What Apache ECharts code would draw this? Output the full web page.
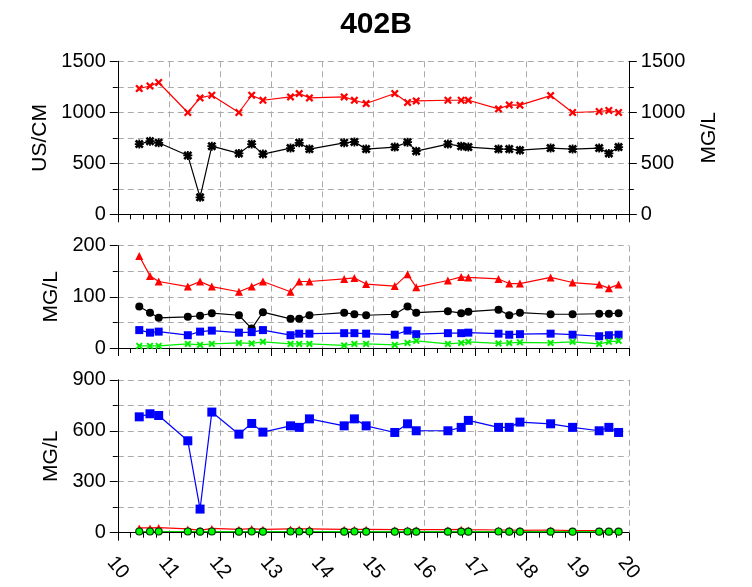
<!DOCTYPE html>
<html>
<head>
<meta charset="utf-8">
<script src="https://cdn.jsdelivr.net/npm/echarts@6/dist/echarts.min.js"></script>
<style>html,body{margin:0;padding:0;background:#fff;}#c{width:752px;height:587px;}</style>
</head>
<body>
<div id="c"></div>
<script>
var dates = [10.42,10.63,10.80,11.37,11.61,11.84,12.37,12.62,12.84,13.38,13.55,13.75,14.43,14.63,14.86,15.42,15.67,15.84,16.46,16.72,16.86,17.45,17.66,17.87,18.47,18.90,19.42,19.61,19.80];
var xTicks = [10,11,12,13,14,15,16,17,18,19,20];
// top panel
var conductivity = [1233,1258,1292,998,1141,1167,998,1167,1118,1151,1184,1141,1151,1118,1086,1184,1096,1112,1118,1118,1118,1033,1072,1070,1164,998,1008,1018,998];
var tds = [688,717,701,577,166,668,597,688,590,649,701,639,701,710,639,659,707,619,688,668,659,639,639,629,649,639,649,597,659];
// middle panel
var midRed = [180,141,130,120,130,120,110,120,130,110,130,130,135,137,125,121,144,119,132,139,138,135,126,126,138,128,124,117,124];
var midBlack = [81,69,59,61,63,68,64,38,70,57,57,64,69,66,64,66,81,69,72,68,71,75,64,69,66,66,67,67,68];
var midBlue = [35,30,32,25,32,34,30,31,35,25,28,28,29,29,28,26,34,27,29,29,30,28,26,27,28,26,23,25,26];
var midGreen = [4,4,4,8,6,8,10,9,12,8,8,8,5,8,8,6,10,14,8,10,12,9,10,11,10,12,8,12,14];
// bottom panel
var botBlue = [682,700,690,541,139,710,580,643,592,629,620,670,629,670,629,590,641,600,600,620,661,620,620,651,641,620,600,620,590];
var botRed = [28,28,30,22,14,25,20,24,20,22,22,22,20,20,20,18,18,18,18,20,18,16,16,14,16,12,12,10,10];
var botGreen = [7,7,7,7,6,7,6,7,6,7,7,7,6,7,6,6,7,6,6,6,6,7,6,6,6,6,6,6,6];
var botBlack = [2,2,2,2,2,2,2,2,2,2,2,2,2,2,2,2,2,2,2,2,2,2,2,2,2,2,2,2,2];

function pts(arr){ return dates.map(function(d,i){ return [d, arr[i]]; }); }

var XSYM = 'path://M0,2L2,0L5,3L8,0L10,2L7,5L10,8L8,10L5,7L2,10L0,8L3,5Z';
var ASTER = 'path://M0,2L2,0L5,3L8,0L10,2L7,5L10,8L8,10L5,7L2,10L0,8L3,5Z M4,0L6,0L6,10L4,10Z M0,4L10,4L10,6L0,6Z';

var FONT = 'Liberation Sans';
var gridCol = '#ababab';
var L = 117.8, R = 752 - 628.8;
var grids = [
  {left: L, right: R, top: 61.3, height: 153},
  {left: L, right: R, top: 245.7, height: 102.3},
  {left: L, right: R, top: 379.8, height: 152.9}
];

function xAxis(i, showLabel){
  return {
    type: 'value', gridIndex: i, min: xTicks[0], max: xTicks[xTicks.length-1], interval: 1,
    axisLine: {show: true, onZero: false, lineStyle: {color: '#000', width: 1}},
    axisTick: {show: true, length: 8, lineStyle: {color: '#000'}},
    minorTick: {show: true, splitNumber: 4, length: 5, lineStyle: {color: '#000'}},
    splitLine: {show: true, lineStyle: {color: gridCol, type: [6,4], width: 1}},
    axisLabel: {show: showLabel, fontFamily: FONT, fontSize: 20, color: '#000', rotate: -50,
      align: 'center', verticalAlign: 'middle', margin: 35,
      formatter: function(v){ return String(v); }}
  };
}
function yAxis(i, max, interval, pos, name, gap){
  return {
    type: 'value', gridIndex: i, min: 0, max: max, interval: interval, position: pos,
    name: name, nameLocation: 'middle', nameGap: gap, nameRotate: 90,
    nameTextStyle: {fontFamily: FONT, fontSize: 21, color: '#000'},
    axisLine: {show: true, lineStyle: {color: '#000', width: 1}},
    axisTick: {show: true, length: 8, lineStyle: {color: '#000'}},
    minorTick: {show: true, splitNumber: 2, length: 5, lineStyle: {color: '#000'}},
    splitLine: {show: pos === 'left', lineStyle: {color: gridCol, type: [6,4], width: 1}},
    minorSplitLine: {show: pos === 'left', lineStyle: {color: gridCol, type: [6,4], width: 1}},
    axisLabel: {fontFamily: FONT, fontSize: 20, color: '#000', margin: 12,
      formatter: function(v){ return String(v); }}
  };
}

function line(name, xi, yi, arr, color, symbol, size, extra){
  var s = {
    name: name, type: 'line', xAxisIndex: xi, yAxisIndex: yi, data: pts(arr),
    symbol: symbol, symbolSize: size, showSymbol: symbol !== 'none',
    lineStyle: {color: color, width: 1.2}, itemStyle: {color: color},
    animation: false, silent: true
  };
  if (extra) for (var k in extra) s[k] = extra[k];
  return s;
}

var option = {
  animation: false,
  title: {text: '402B', left: 'center', top: 5, textStyle: {fontFamily: FONT, fontSize: 30, fontWeight: 'bold', color: '#000'}},
  grid: grids,
  xAxis: [xAxis(0,false), xAxis(1,false), xAxis(2,true)],
  yAxis: [
    yAxis(0, 1500, 500, 'left', 'US/CM', 56),
    yAxis(0, 1500, 500, 'right', 'MG/L', 70),
    yAxis(1, 200, 100, 'left', 'MG/L', 56),
    yAxis(2, 900, 300, 'left', 'MG/L', 56)
  ],
  series: [
    line('Conductivity', 0, 0, conductivity, '#ff0000', XSYM, 8),
    line('TDS', 0, 1, tds, '#000000', ASTER, 9),
    line('midRed', 1, 2, midRed, '#ff0000', 'triangle', 8),
    line('midBlack', 1, 2, midBlack, '#000000', 'circle', 8),
    line('midBlue', 1, 2, midBlue, '#0000ff', 'rect', 8),
    line('midGreen', 1, 2, midGreen, '#00ee00', XSYM, 7),
    line('botBlack', 2, 3, botBlack, '#000000', 'none', 0),
    line('botRed', 2, 3, botRed, '#ff0000', 'triangle', 7),
    line('botGreen', 2, 3, botGreen, '#00cc00', 'circle', 7, {itemStyle: {color: '#00ff00', borderColor: '#003300', borderWidth: 1.2}}),
    line('botBlue', 2, 3, botBlue, '#0000ff', 'rect', 9)
  ]
};
var chart = echarts.init(document.getElementById('c'), null, {renderer: 'canvas'});
chart.setOption(option);
</script>
</body>
</html>
